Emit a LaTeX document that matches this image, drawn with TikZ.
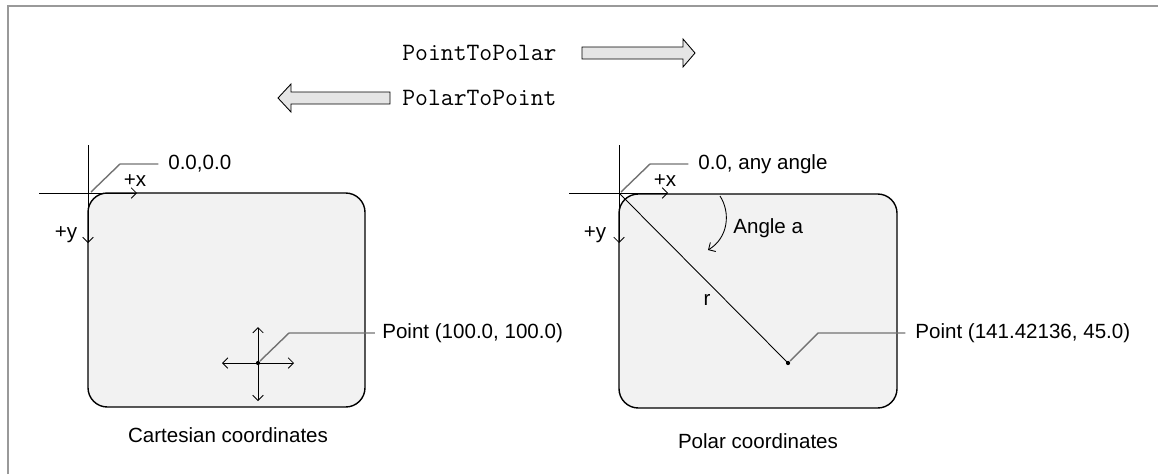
\documentclass[tikz,border=0pt]{standalone}
\usepackage{fontspec}
\setmainfont{Liberation Sans}
\usetikzlibrary{arrows.meta}

\begin{document}
\begin{tikzpicture}[x=0.02cm, y=-0.02cm,
  every node/.style={font=\fontsize{11.7}{14}\selectfont, inner sep=0pt},
  code/.style={font=\ttfamily\fontsize{14.2}{16}\selectfont},
  panel/.style={draw, line width=0.8pt, fill=black!5, rounded corners=11pt},
  axis/.style={line width=0.5pt, -{Straight Barb[length=3pt,width=6pt]}},
  both/.style={line width=0.5pt, {Straight Barb[length=3pt,width=6pt]}-{Straight Barb[length=3pt,width=6pt]}},
  leader/.style={draw=black!55, line width=0.8pt},
  fatarrow/.style={draw, line width=0.5pt, fill=black!10}]
  \useasboundingbox (0,0) rectangle (1158,474);

  % frame
  \draw[black!40, line width=1.2pt] (8,474) -- (8,6) -- (1158,6);

  % conversion arrows
  \node[code, anchor=west] (toPolar) at (402,53) {PointToPolar};
  \node[code, anchor=west] (toPoint) at (402,98) {PolarToPoint};
  \draw[fatarrow] (582,47) -- (683,47) -- (683,39) -- (695,53) -- (683,67) -- (683,59) -- (582,59) -- cycle;
  \draw[fatarrow] (390,92) -- (291,92) -- (291,84) -- (278,98) -- (291,112) -- (291,104) -- (390,104) -- cycle;

  % cartesian panel
  \draw[panel] (88,193) rectangle (365,407);
  \coordinate (orgL) at (91,192);
  \draw[axis] (39,193) -- (137,193);
  \draw[axis] (88,145) -- (88,243);
  \node (plusxL) at (135,181) {+x};
  \node (plusyL) at (66,235) {+y};
  \node[anchor=west] (zeroL) at (168,164) {0.0,0.0};
  \draw[leader] (orgL) -- ++(29,-28) -- ([xshift=-5.5pt]zeroL.west);

  % point marker
  \coordinate (ptL) at (258,363);
  \draw[both] (222,363) -- (294,363);
  \draw[both] (258,327) -- (258,401);
  \fill (ptL) circle (1.2pt);
  \node[anchor=west] (pointL) at (382,333) {Point (100.0, 100.0)};
  \draw[leader] ([shift={(2,-2)}]ptL) -- ++(29,-28) -- ([xshift=-4pt]pointL.west);
  \node (capL) at (228,435) {Cartesian coordinates};

  % polar panel
  \draw[panel] (619,194) rectangle (897,408);
  \coordinate (orgR) at (619,193);
  \draw[axis] (569,193) -- (668,193);
  \draw[axis] (619,145) -- (619,243);
  \node (plusxR) at (665,181) {+x};
  \node (plusyR) at (595,235) {+y};
  \node[anchor=west] (anyR) at (698,164) {0.0, any angle};
  \draw[leader] ([shift={(2,-1)}]orgR) -- ++(29,-28) -- ([xshift=-5.5pt]anyR.west);

  % radius and angle
  \coordinate (ptR) at (788,363);
  \draw[line width=0.5pt] (orgR) -- (ptR);
  \fill (ptR) circle (1.2pt);
  \node (radius) at (707,300) {r};
  \draw[axis] (720,196) .. controls (731,213) and (728,238) .. (708,250);
  \node[anchor=west] (angle) at (733,228) {Angle a};
  \node[anchor=west] (pointR) at (915,333) {Point (141.42136, 45.0)};
  \draw[leader] ([shift={(2,-2)}]ptR) -- ++(28,-28) -- ([xshift=-5.5pt]pointR.west);
  \node (capR) at (758,441) {Polar coordinates};
\end{tikzpicture}
\end{document}
